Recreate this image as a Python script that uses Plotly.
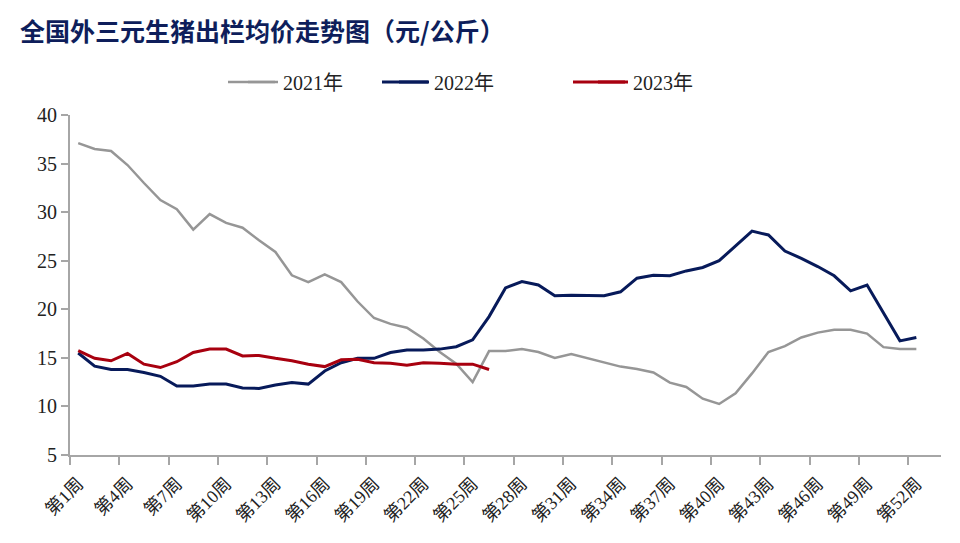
import plotly.graph_objects as go

weeks = list(range(1, 53))
week_labels = [f"第{w}周" for w in weeks]

price_2021 = [37.1, 36.5, 36.3, 34.85, 33.0, 31.25, 30.3, 28.2, 29.8, 28.9,
              28.4, 27.1, 25.9, 23.5, 22.8, 23.6, 22.8, 20.8, 19.1, 18.5,
              18.1, 17.0, 15.6, 14.4, 12.5, 15.7, 15.7, 15.9, 15.6, 15.0,
              15.4, 14.95, 14.5, 14.1, 13.85, 13.5, 12.45, 12.0, 10.8, 10.25,
              11.35, 13.4, 15.6, 16.2, 17.1, 17.6, 17.9, 17.9, 17.5, 16.1,
              15.9, 15.9]
price_2022 = [15.5, 14.15, 13.8, 13.8, 13.5, 13.1, 12.1, 12.1, 12.3, 12.3,
              11.9, 11.85, 12.2, 12.45, 12.3, 13.65, 14.5, 14.95, 14.95, 15.55,
              15.8, 15.8, 15.9, 16.15, 16.85, 19.25, 22.2, 22.85, 22.5, 21.4,
              21.45, 21.4, 21.4, 21.8, 23.2, 23.5, 23.45, 23.95, 24.3, 25.0,
              26.55, 28.05, 27.65, 26.0, 25.25, 24.4, 23.45, 21.9, 22.5, 19.6,
              16.75, 17.1]
price_2023 = [15.75, 14.95, 14.7, 15.45, 14.35, 14.0, 14.6, 15.55, 15.9, 15.9,
              15.2, 15.25, 14.95, 14.7, 14.35, 14.1, 14.8, 14.85, 14.5, 14.45,
              14.25, 14.5, 14.45, 14.35, 14.35, 13.8]

series = [
    ("2021年", price_2021, "#969696", 2.5, "legend"),
    ("2022年", price_2022, "#071A5A", 3, "legend2"),
    ("2023年", price_2023, "#A8000F", 3, "legend3"),
]

FONT = "Liberation Serif, Noto Sans CJK SC, serif"

fig = go.Figure()
for name, vals, color, width, lg in series:
    fig.add_trace(go.Scatter(
        x=weeks[:len(vals)], y=vals, name=name, mode="lines",
        line=dict(color=color, width=width), legend=lg, showlegend=True,
    ))

L, R, T, B = 70, 19, 115, 88
pw = 960 - L - R
ph = 543 - T - B

def lx(px):
    return (px - L) / pw

def ly(py):
    return (543 - B - py) / ph

legend_common = dict(orientation="h", yanchor="middle", xanchor="left",
                     font=dict(family=FONT, size=20, color="#222222"),
                     bgcolor="rgba(0,0,0,0)", itemwidth=30)

# legend swatch extensions (reference swatches are longer than plotly's)
legend_pos = [(243, 228, 275), (394, 382, 428), (593, 573, 625)]
shapes = []
for (name, vals, color, width, lg), (_, x0, x1) in zip(series, legend_pos):
    shapes.append(dict(type="line", xref="paper", yref="paper",
                       x0=lx(x0), x1=lx(x1), y0=ly(82), y1=ly(82),
                       line=dict(color=color, width=width)))

fig.update_layout(
    width=960, height=543,
    margin=dict(l=L, r=R, t=T, b=B),
    paper_bgcolor="white", plot_bgcolor="white",
    showlegend=True,
    shapes=shapes,
    title=dict(text="<b>全国外三元生猪出栏均价走势图（元/公斤）</b>",
               x=20 / 960, xanchor="left", xref="container",
               y=1 - 32 / 543, yanchor="middle", yref="container",
               font=dict(family="Noto Sans CJK SC", size=25, color="#0E1E5B")),
    legend=dict(x=lx(legend_pos[0][0]), y=ly(82), **legend_common),
    legend2=dict(x=lx(legend_pos[1][0]), y=ly(82), **legend_common),
    legend3=dict(x=lx(legend_pos[2][0]), y=ly(82), **legend_common),
    xaxis=dict(
        range=[0.5, 53.5], tickmode="array",
        tickvals=weeks[::3], ticktext=week_labels[::3],
        tickangle=-45, ticks="outside", ticklen=9,
        tickcolor="rgba(0,0,0,0)",
        tickfont=dict(family=FONT, size=18, color="#222222"),
        showline=True, linecolor="#A6A6A6", linewidth=2,
        showgrid=False, zeroline=False,
        minor=dict(tickmode="array", tickvals=[w - 0.5 for w in weeks[::3]],
                   ticks="outside", ticklen=8, tickcolor="#A6A6A6", tickwidth=2,
                   showgrid=False),
    ),
    yaxis=dict(
        range=[5, 40], tickmode="array", tickvals=[5, 10, 15, 20, 25, 30, 35, 40],
        ticks="outside", ticklen=7, tickcolor="#A6A6A6", tickwidth=2,
        tickfont=dict(family=FONT, size=20, color="#222222"),
        showline=True, linecolor="#A6A6A6", linewidth=2,
        showgrid=False, zeroline=False,
    ),
)

fig.write_html("out.html")
